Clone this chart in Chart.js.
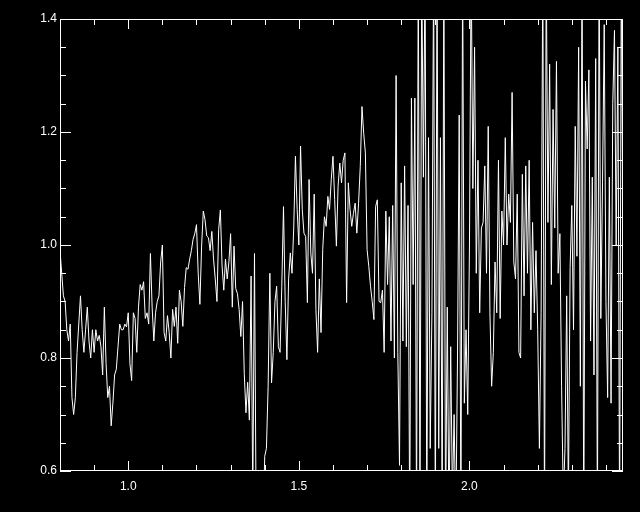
<!DOCTYPE html>
<html>
<head>
<meta charset="utf-8">
<script src="https://cdn.jsdelivr.net/npm/chart.js@4/dist/chart.umd.min.js"></script>
<style>
  html, body { margin: 0; padding: 0; background: #000; }
  canvas { display: block; }
</style>
</head>
<body>
<canvas id="spec" width="640" height="512"></canvas>
<script>
// flux values, one every 0.005 in wavelength starting at 0.80
const flux = [
  0.99, 0.95, 0.91, 0.90, 0.85, 0.83, 0.86, 0.73, 0.70, 0.73,
  0.81, 0.86, 0.91, 0.85, 0.81, 0.85, 0.89, 0.83, 0.80, 0.85,
  0.81, 0.85, 0.83, 0.84, 0.82, 0.77, 0.89, 0.79, 0.73, 0.75,
  0.68, 0.72, 0.77, 0.78, 0.82, 0.86, 0.85, 0.85, 0.86, 0.855,
  0.88, 0.79, 0.76, 0.88, 0.87, 0.81, 0.89, 0.93, 0.92, 0.935,
  0.87, 0.88, 0.86, 0.985, 0.89, 0.83, 0.88, 0.90, 0.91, 0.97,
  1.0, 0.845, 0.83, 0.875, 0.845, 0.80, 0.886, 0.856, 0.89, 0.826,
  0.92, 0.90, 0.856, 0.925, 0.96, 0.957, 0.975, 0.99, 1.01, 1.02,
  1.036, 0.95, 0.895, 0.998, 1.06, 1.045, 1.016, 1.013, 0.99, 1.024,
  0.975, 0.94, 0.90, 1.027, 1.062, 0.963, 0.92, 0.975, 0.94, 0.97,
  1.02, 0.89, 0.998, 0.923, 0.914, 0.886, 0.838, 0.90, 0.773, 0.703,
  0.757, 0.69, 0.945, 0.55, 0.985, 0.5, 0.5, 0.5, 0.5, 0.5,
  0.626, 0.64, 0.75, 0.95, 0.756, 0.81, 0.90, 0.927, 0.82, 0.81,
  0.927, 1.068, 0.90, 0.797, 0.94, 0.986, 0.95, 1.03, 1.157, 1.063,
  1.0, 1.175, 1.063, 1.021, 1.015, 0.898, 1.116, 0.986, 0.95, 1.09,
  0.886, 0.81, 0.94, 0.845, 0.992, 1.05, 1.033, 1.086, 1.063, 1.116,
  1.157, 1.08, 0.998, 1.104, 1.145, 1.11, 1.15, 1.163, 0.898, 1.11,
  1.063, 1.033, 1.056, 1.074, 1.021, 1.074, 1.139, 1.245, 1.198, 1.163,
  0.992, 0.962, 0.927, 0.90, 0.868, 1.068, 1.08, 0.90, 0.898, 0.92,
  0.81, 1.06, 0.93, 1.05, 0.83, 1.07, 0.80, 1.30, 0.81, 0.61,
  1.11, 0.83, 1.14, 0.82, 1.07, 0.5, 1.26, 0.93, 1.26, 0.5,
  1.5, 0.5, 1.5, 1.12, 1.5, 0.5, 1.19, 0.64, 0.88, 1.5,
  0.5, 1.5, 0.64, 1.19, 0.5, 1.5, 0.5, 0.89, 0.5, 0.82,
  0.55, 0.7, 0.5, 0.8, 1.23, 0.5, 1.5, 0.72, 0.85, 0.7,
  1.0, 1.5, 1.1, 1.35, 0.95, 1.15, 0.88, 1.03, 1.04, 1.14,
  0.95, 1.21, 0.88, 0.75, 0.81, 0.97, 0.88, 1.15, 0.87, 1.06,
  1.0, 1.19, 1.0, 1.09, 1.04, 1.27, 0.97, 0.94, 1.09, 0.81,
  0.80, 1.125, 0.91, 1.14, 0.95, 1.15, 0.85, 1.04, 0.88, 0.99,
  0.85, 0.64, 0.88, 1.5, 0.5, 1.5, 1.04, 1.32, 0.93, 1.24,
  1.03, 1.325, 0.95, 1.02, 0.75, 0.55, 0.64, 0.91, 0.55, 0.96,
  1.07, 0.85, 1.21, 0.98, 1.35, 0.75, 1.5, 0.5, 1.29, 1.17,
  1.31, 0.83, 1.12, 0.77, 1.33, 0.5, 1.5, 0.87, 1.11, 1.39,
  0.90, 0.73, 1.12, 0.72, 1.25, 1.38, 1.0, 1.35, 0.5, 1.5, 1.0
];
const waveStart = 0.80, waveStep = 0.005;
const wave = flux.map((_, i) => +(waveStart + i * waveStep).toFixed(3));

// axis ticks
const xMajor = [1.0, 1.5, 2.0];
const xMinor = [0.9, 1.1, 1.2, 1.3, 1.4, 1.6, 1.7, 1.8, 1.9, 2.1, 2.2, 2.3, 2.4];
const yMajor = [0.6, 0.8, 1.0, 1.2, 1.4];
const yMinor = [0.65, 0.7, 0.75, 0.85, 0.9, 0.95, 1.05, 1.1, 1.15, 1.25, 1.3, 1.35];

// IDL style frame with inward ticks on all four sides
const frameTicks = {
  id: 'frameTicks',
  beforeDraw(chart) {
    const c = chart.ctx;
    c.save();
    c.fillStyle = '#000';
    c.fillRect(0, 0, chart.width, chart.height);
    c.restore();
  },
  afterDraw(chart) {
    const c = chart.ctx, a = chart.chartArea;
    const xs = chart.scales.x, ys = chart.scales.y;
    c.save();
    c.strokeStyle = '#fff';
    c.lineWidth = 1;
    c.strokeRect(a.left + 0.5, a.top + 0.5, a.right - a.left - 1, a.bottom - a.top - 1);
    c.beginPath();
    const xt = (v, len) => {
      const px = Math.round(xs.getPixelForValue(v)) + 0.5;
      c.moveTo(px, a.bottom); c.lineTo(px, a.bottom - len);
      c.moveTo(px, a.top); c.lineTo(px, a.top + len);
    };
    const yt = (v, len) => {
      const py = Math.round(ys.getPixelForValue(v)) + 0.5;
      c.moveTo(a.left, py); c.lineTo(a.left + len, py);
      c.moveTo(a.right, py); c.lineTo(a.right - len, py);
    };
    xMajor.forEach(v => xt(v, 10));
    xMinor.forEach(v => xt(v, 6));
    yMajor.forEach(v => yt(v, 11));
    yMinor.forEach(v => yt(v, 6));
    c.stroke();
    c.restore();
  }
};

const labelFont = { family: 'Liberation Sans', size: 12 };

new Chart(document.getElementById('spec'), {
  type: 'line',
  data: {
    datasets: [{
      data: wave.map((w, i) => ({ x: w, y: flux[i] })),
      borderColor: '#fff',
      borderWidth: 1,
      pointRadius: 0,
      tension: 0,
      fill: false
    }]
  },
  options: {
    responsive: false,
    animation: false,
    events: [],
    layout: { padding: { top: 19, right: 17, left: 0, bottom: 0 } },
    plugins: { legend: { display: false }, tooltip: { enabled: false } },
    scales: {
      x: {
        type: 'linear',
        min: 0.8,
        max: 2.45,
        grid: { display: false, drawTicks: false },
        border: { display: false },
        afterBuildTicks: s => { s.ticks = xMajor.map(v => ({ value: v })); },
        afterFit: s => { s.height = 41; },
        ticks: {
          color: '#fff',
          font: labelFont,
          padding: 8,
          maxRotation: 0,
          callback: v => v.toFixed(1)
        }
      },
      y: {
        min: 0.6,
        max: 1.4,
        grid: { display: false, drawTicks: false },
        border: { display: false },
        afterBuildTicks: s => { s.ticks = yMajor.map(v => ({ value: v })); },
        afterFit: s => { s.width = 60; },
        ticks: {
          color: '#fff',
          font: labelFont,
          padding: 3,
          callback: v => v.toFixed(1)
        }
      }
    }
  },
  plugins: [frameTicks]
});
</script>
</body>
</html>
